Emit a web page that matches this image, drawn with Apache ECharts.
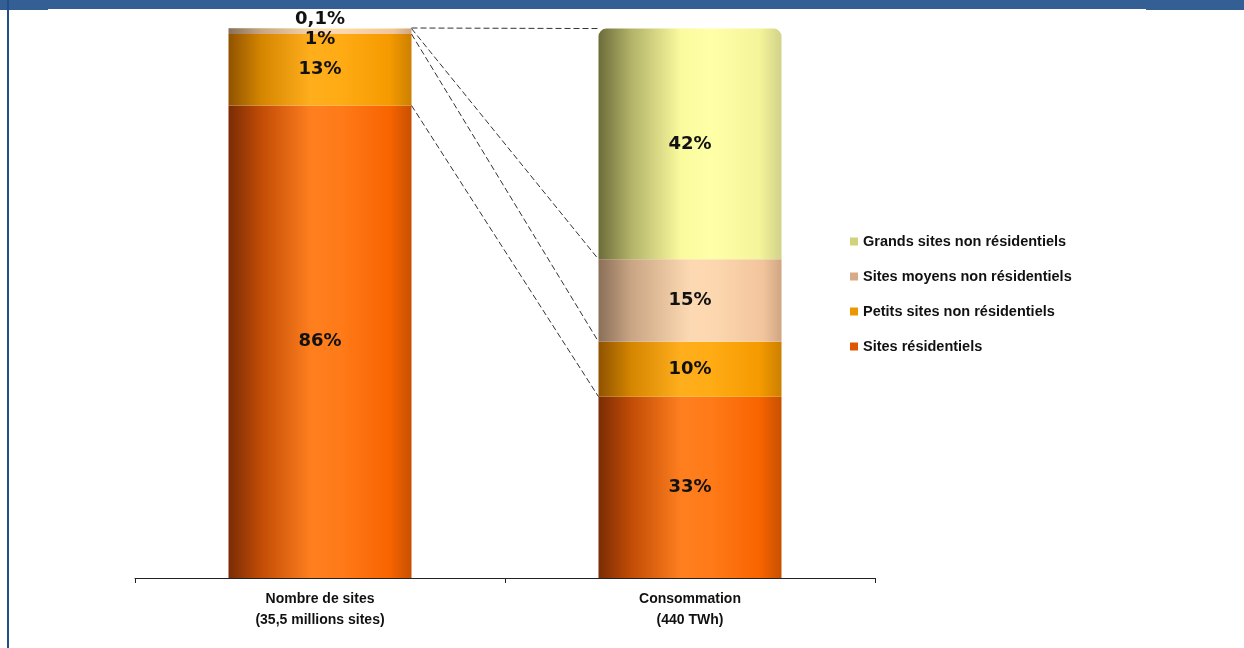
<!DOCTYPE html>
<html>
<head>
  <meta charset="utf-8">
  <title>Sites et consommation</title>
  <script src="https://cdn.jsdelivr.net/npm/echarts@6/dist/echarts.min.js"></script>
</head>
<body style="margin:0;background:#fff;">
<div id="main" style="width:1244px;height:648px;"></div>
<script type="text/javascript">
  // categories and shares (%)
  var categories = ['Nombre de sites\n(35,5 millions sites)', 'Consommation\n(440 TWh)'];
  var seriesNames = ['Sites résidentiels', 'Petits sites non résidentiels', 'Sites moyens non résidentiels', 'Grands sites non résidentiels'];
  var residentiels = [86, 33];
  var petits = [13, 10];
  var moyens = [1, 15];
  var grands = [0.1, 42];
  var labelsResid = ['86%', '33%'];
  var labelsPetits = ['13%', '10%'];
  var labelsMoyens = ['1%', '15%'];
  var labelsGrands = ['0,1%', '42%'];

  function grad(stops) {
    return new echarts.graphic.LinearGradient(0, 0, 1, 0, stops.map(function (c) {
      return { offset: c[0], color: c[1] };
    }));
  }
  var colResid = grad([[0, '#7a2c05'], [0.18, '#c24c06'], [0.45, '#ff7f1f'], [0.62, '#ff7a18'], [0.88, '#f86400'], [1, '#c85000']]);
  var colPetits = grad([[0, '#8f5200'], [0.18, '#d58600'], [0.45, '#ffae1c'], [0.62, '#ffab14'], [0.88, '#f59a00'], [1, '#cc8000']]);
  var colMoyens = grad([[0, '#8a6f58'], [0.18, '#c9a584'], [0.5, '#fdd9b3'], [0.65, '#fcd6ae'], [0.9, '#f2c49c'], [1, '#cfa682']]);
  var colGrands = grad([[0, '#6c6c3a'], [0.18, '#b3b36a'], [0.45, '#fafa9e'], [0.62, '#ffffa8'], [0.88, '#f4f49a'], [1, '#d2d28a']]);

  var labelBase = {
    show: true,
    fontFamily: 'DejaVu Sans',
    fontWeight: 'bold',
    fontSize: 18,
    color: '#111'
  };

  function mk(name, values, texts, color, extra) {
    return {
      name: name,
      type: 'bar',
      stack: 'total',
      barWidth: 183,
      itemStyle: { color: color },
      data: values.map(function (v, i) {
        var d = { value: v, label: Object.assign({}, labelBase, { formatter: texts[i] }) };
        if (extra && extra[i]) {
          if (extra[i].label) Object.assign(d.label, extra[i].label);
          if (extra[i].itemStyle) d.itemStyle = extra[i].itemStyle;
        }
        return d;
      })
    };
  }

  // segment tops (cumulative stacks), joined from bar 1 to bar 2
  var top0 = [], top1 = [], s0 = 0, s1 = 0;
  [residentiels, petits, moyens, grands].forEach(function (arr) {
    s0 += arr[0]; s1 += arr[1];
    top0.push(s0); top1.push(s1);
  });
  var links = top0.map(function (v, i) { return [v, top1[i]]; });

  var chart = echarts.init(document.getElementById('main'));
  var option = {
    animation: false,
    backgroundColor: '#fff',
    graphic: [
      { type: 'rect', shape: { x: 0, y: 0, width: 1244, height: 9 }, style: { fill: '#345f94' }, z: 100 },
      { type: 'rect', shape: { x: 0, y: 0, width: 48, height: 10 }, style: { fill: '#345f94' }, z: 100 },
      { type: 'rect', shape: { x: 1146, y: 0, width: 98, height: 10 }, style: { fill: '#345f94' }, z: 100 },
      { type: 'rect', shape: { x: 7, y: 0, width: 2, height: 648 }, style: { fill: '#1f4f86' }, z: 100 }
    ],
    legend: {
      orient: 'vertical',
      left: 845,
      top: 229,
      icon: 'rect',
      itemWidth: 8,
      itemHeight: 8,
      itemGap: 20,
      data: [
        { name: seriesNames[3], itemStyle: { color: '#d2d27c' } },
        { name: seriesNames[2], itemStyle: { color: '#d6ab86' } },
        { name: seriesNames[1], itemStyle: { color: '#ec9600' } },
        { name: seriesNames[0], itemStyle: { color: '#e05600' } }
      ],
      textStyle: { fontFamily: 'Liberation Sans', fontWeight: 'bold', fontSize: 14.5, color: '#111' }
    },
    grid: { left: 135, right: 369, top: 28, bottom: 70 },
    xAxis: {
      type: 'category',
      data: categories,
      axisLine: { lineStyle: { color: '#222', width: 1 } },
      axisTick: { show: true, length: 5, lineStyle: { color: '#222' } },
      axisLabel: {
        margin: 11,
        fontFamily: 'Liberation Sans',
        fontWeight: 'bold',
        fontSize: 14,
        lineHeight: 21,
        color: '#111'
      }
    },
    yAxis: {
      type: 'value',
      min: 0,
      max: 100.1,
      show: false,
      splitLine: { show: false }
    },
    series: [
      mk(seriesNames[0], residentiels, labelsResid, colResid),
      mk(seriesNames[1], petits, labelsPetits, colPetits),
      mk(seriesNames[2], moyens, labelsMoyens, colMoyens, [
        { label: { position: 'inside', offset: [0, 8] } },
        null
      ]),
      mk(seriesNames[3], grands, labelsGrands, colGrands, [
        { label: { position: 'inside', offset: [0, -9] } },
        { itemStyle: { color: colGrands, borderRadius: [8, 8, 0, 0] } }
      ]),
      {
        type: 'custom',
        name: 'liens',
        z: 5,
        silent: true,
        data: links,
        renderItem: function (params, api) {
          var p0 = api.coord([0, api.value(0)]);
          var p1 = api.coord([1, api.value(1)]);
          return {
            type: 'line',
            shape: { x1: p0[0] + 91.5, y1: p0[1], x2: p1[0] - 91.5, y2: p1[1] },
            style: { stroke: '#333', lineWidth: 1, lineDash: [6, 3] }
          };
        }
      }
    ]
  };
  chart.setOption(option);
</script>
</body>
</html>
